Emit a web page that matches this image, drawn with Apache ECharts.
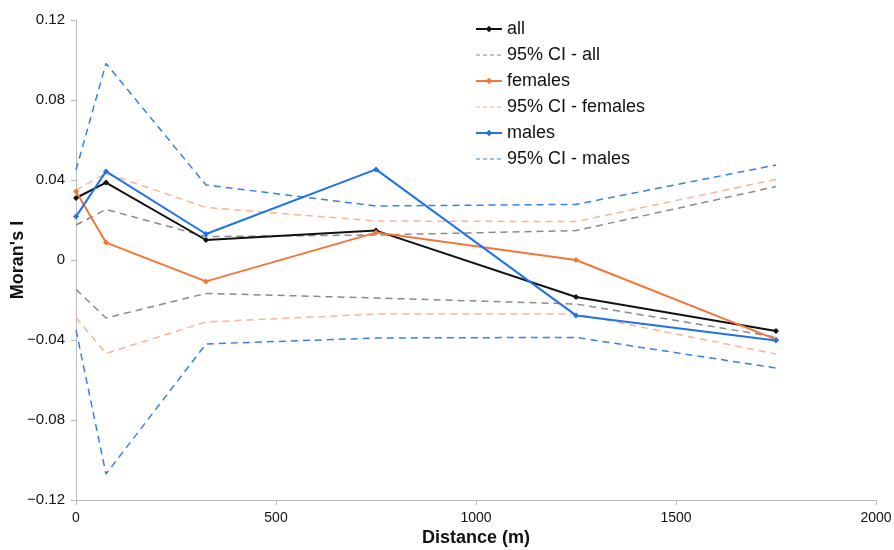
<!DOCTYPE html>
<html>
<head>
<meta charset="utf-8">
<script src="https://cdn.jsdelivr.net/npm/echarts@6/dist/echarts.min.js"></script>
<style>
    html, body { margin: 0; padding: 0; background: #fff; }
    #chart { width: 894px; height: 550px; }
</style>
</head>
<body>
<div id="chart"></div>
<script>
    // distances (m) of the distance classes
    const distance = [0, 75, 325, 750, 1250, 1750];

    // Moran's I and 95% CI bounds
    const allI   = [0.031, 0.0387, 0.010, 0.0147, -0.0185, -0.0355];
    const allHi  = [0.0175, 0.0253, 0.0117, 0.0125, 0.0147, 0.0367];
    const allLo  = [-0.0147, -0.029, -0.0167, -0.019, -0.022, -0.0385];

    const femI   = [0.0343, 0.0087, -0.0107, 0.0137, 0.0, -0.0397];
    const femHi  = [0.035, 0.0433, 0.0263, 0.0195, 0.0192, 0.0403];
    const femLo  = [-0.0288, -0.0467, -0.031, -0.027, -0.027, -0.047];

    const maleI  = [0.0217, 0.0443, 0.013, 0.0453, -0.0277, -0.0403];
    const maleHi = [0.045, 0.0983, 0.0375, 0.027, 0.0278, 0.0475];
    const maleLo = [-0.035, -0.107, -0.042, -0.039, -0.0387, -0.054];

    const legendNames = ['all', '95% CI - all', 'females', '95% CI - females', 'males', '95% CI - males'];

    const font = 'Liberation Sans, Arial, sans-serif';

    function pts(vals) {
        return distance.map((d, i) => [d, vals[i]]);
    }
    function ci(name, vals, color) {
        return {
            name: name, type: 'line', data: pts(vals),
            symbol: 'none', z: 1,
            lineStyle: { color: color, width: 1.5, type: [7, 5] },
            itemStyle: { color: color }
        };
    }
    function main(name, vals, color) {
        return {
            name: name, type: 'line', data: pts(vals),
            symbol: 'diamond', symbolSize: 6, z: 3,
            lineStyle: { color: color, width: 2 },
            itemStyle: { color: color }
        };
    }

    // CI entries in the legend: dashed line only, no marker
    const legendData = legendNames.map(n => n.indexOf('95%') === 0
        ? { name: n, itemStyle: { color: 'rgba(0,0,0,0)', borderWidth: 0, opacity: 0 }, lineStyle: { type: [4, 3], width: 1.2 } }
        : { name: n });

    const myChart = echarts.init(document.getElementById('chart'));
    let option = {
        animation: false,
        grid: { left: 76, right: 18, top: 20, bottom: 50, outerBoundsMode: 'none', containLabel: false },
        legend: {
            data: legendData,
            orient: 'vertical',
            left: 470, top: 15,
            itemWidth: 26, itemHeight: 8, itemGap: 8,
            textStyle: { fontFamily: font, fontSize: 18, lineHeight: 18, color: '#111' }
        },
        xAxis: {
            type: 'value', min: 0, max: 2000, interval: 500,
            name: 'Distance (m)', nameLocation: 'middle', nameGap: 29, nameMoveOverlap: false,
            nameTextStyle: { fontFamily: font, fontSize: 18, fontWeight: 'bold', color: '#111', verticalAlign: 'top' },
            axisLine: { onZero: false, lineStyle: { color: '#bbb', width: 1 } },
            axisTick: { show: true, length: 5, lineStyle: { color: '#bbb' } },
            axisLabel: { fontFamily: font, fontSize: 14, color: '#111', margin: 11, formatter: v => String(v) },
            splitLine: { show: false }
        },
        yAxis: {
            type: 'value', min: -0.12, max: 0.12, interval: 0.04,
            name: "Moran's I", nameLocation: 'middle', nameGap: 49, nameRotate: 90, nameMoveOverlap: false,
            nameTextStyle: { fontFamily: font, fontSize: 18, fontWeight: 'bold', color: '#111' },
            axisLine: { show: true, lineStyle: { color: '#bbb', width: 1 } },
            axisTick: { show: true, length: 5, lineStyle: { color: '#bbb' } },
            axisLabel: {
                fontFamily: font, fontSize: 15, color: '#111', margin: 11,
                formatter: v => {
                    const r = Math.round(v * 100) / 100;
                    if (r === 0) return '0';
                    return r < 0 ? '\u2212' + Math.abs(r).toFixed(2) : r.toFixed(2);
                }
            },
            splitLine: { show: false }
        },
        series: [
            ci('95% CI - all', allHi, '#8a8a8a'),
            ci('95% CI - all', allLo, '#8a8a8a'),
            ci('95% CI - females', femHi, '#f8b596'),
            ci('95% CI - females', femLo, '#f8b596'),
            ci('95% CI - males', maleHi, '#3a7fe6'),
            ci('95% CI - males', maleLo, '#3a7fe6'),
            main('all', allI, '#111111'),
            main('females', femI, '#f0773b'),
            main('males', maleI, '#1f72ea')
        ]
    };
    myChart.setOption(option);
</script>
</body>
</html>
